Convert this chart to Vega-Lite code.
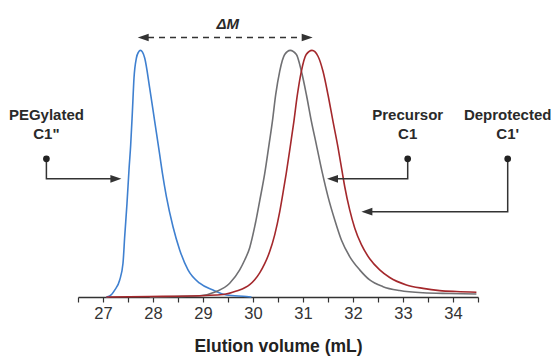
{
  "$schema": "https://vega.github.io/schema/vega-lite/v6.json",
  "width": 400,
  "height": 296,
  "autosize": {"type": "none"},
  "padding": {"left": 78, "right": 77, "top": 1, "bottom": 59},
  "background": "white",
  "config": {"view": {"stroke": null}, "font": "Liberation Sans"},
  "datasets": {
    "curves": [
      {"s": "PEG", "x": 27.068, "y": 0}, {"s": "PEG", "x": 27.134, "y": 0.004}, {"s": "PEG", "x": 27.234, "y": 0.028}, {"s": "PEG", "x": 27.334, "y": 0.069}, {"s": "PEG", "x": 27.4, "y": 0.137}, {"s": "PEG", "x": 27.434, "y": 0.245}, {"s": "PEG", "x": 27.48, "y": 0.38}, {"s": "PEG", "x": 27.52, "y": 0.516}, {"s": "PEG", "x": 27.554, "y": 0.617}, {"s": "PEG", "x": 27.588, "y": 0.752}, {"s": "PEG", "x": 27.62, "y": 0.888}, {"s": "PEG", "x": 27.668, "y": 0.969}, {"s": "PEG", "x": 27.71, "y": 0.993}, {"s": "PEG", "x": 27.748, "y": 1.0}, {"s": "PEG", "x": 27.79, "y": 0.993}, {"s": "PEG", "x": 27.834, "y": 0.969}, {"s": "PEG", "x": 27.934, "y": 0.847}, {"s": "PEG", "x": 28.034, "y": 0.712}, {"s": "PEG", "x": 28.134, "y": 0.577}, {"s": "PEG", "x": 28.188, "y": 0.502}, {"s": "PEG", "x": 28.268, "y": 0.407}, {"s": "PEG", "x": 28.4, "y": 0.285}, {"s": "PEG", "x": 28.534, "y": 0.191}, {"s": "PEG", "x": 28.7, "y": 0.11}, {"s": "PEG", "x": 28.934, "y": 0.056}, {"s": "PEG", "x": 29.2, "y": 0.028}, {"s": "PEG", "x": 29.468, "y": 0.008}, {"s": "PEG", "x": 29.868, "y": 0.002}, {"s": "PEG", "x": 29.97, "y": 0},
      {"s": "Pre", "x": 27.934, "y": 0}, {"s": "Pre", "x": 28.434, "y": 0.002}, {"s": "Pre", "x": 28.934, "y": 0.005}, {"s": "Pre", "x": 29.268, "y": 0.022}, {"s": "Pre", "x": 29.534, "y": 0.056}, {"s": "Pre", "x": 29.734, "y": 0.11}, {"s": "Pre", "x": 29.834, "y": 0.15}, {"s": "Pre", "x": 29.934, "y": 0.2}, {"s": "Pre", "x": 30.034, "y": 0.285}, {"s": "Pre", "x": 30.134, "y": 0.39}, {"s": "Pre", "x": 30.234, "y": 0.5}, {"s": "Pre", "x": 30.32, "y": 0.617}, {"s": "Pre", "x": 30.388, "y": 0.712}, {"s": "Pre", "x": 30.454, "y": 0.82}, {"s": "Pre", "x": 30.534, "y": 0.915}, {"s": "Pre", "x": 30.634, "y": 0.983}, {"s": "Pre", "x": 30.744, "y": 1.0}, {"s": "Pre", "x": 30.868, "y": 0.983}, {"s": "Pre", "x": 30.968, "y": 0.915}, {"s": "Pre", "x": 31.068, "y": 0.82}, {"s": "Pre", "x": 31.168, "y": 0.712}, {"s": "Pre", "x": 31.268, "y": 0.617}, {"s": "Pre", "x": 31.388, "y": 0.502}, {"s": "Pre", "x": 31.5, "y": 0.407}, {"s": "Pre", "x": 31.634, "y": 0.313}, {"s": "Pre", "x": 31.768, "y": 0.231}, {"s": "Pre", "x": 31.934, "y": 0.164}, {"s": "Pre", "x": 32.134, "y": 0.11}, {"s": "Pre", "x": 32.334, "y": 0.069}, {"s": "Pre", "x": 32.6, "y": 0.042}, {"s": "Pre", "x": 32.934, "y": 0.026}, {"s": "Pre", "x": 33.4, "y": 0.017}, {"s": "Pre", "x": 33.934, "y": 0.014}, {"s": "Pre", "x": 34.468, "y": 0.012},
      {"s": "Dep", "x": 27.068, "y": 0}, {"s": "Dep", "x": 27.934, "y": 0.002}, {"s": "Dep", "x": 28.734, "y": 0.004}, {"s": "Dep", "x": 29.4, "y": 0.01}, {"s": "Dep", "x": 29.668, "y": 0.024}, {"s": "Dep", "x": 29.934, "y": 0.05}, {"s": "Dep", "x": 30.034, "y": 0.07}, {"s": "Dep", "x": 30.134, "y": 0.098}, {"s": "Dep", "x": 30.234, "y": 0.135}, {"s": "Dep", "x": 30.334, "y": 0.184}, {"s": "Dep", "x": 30.434, "y": 0.252}, {"s": "Dep", "x": 30.534, "y": 0.345}, {"s": "Dep", "x": 30.6, "y": 0.422}, {"s": "Dep", "x": 30.664, "y": 0.5}, {"s": "Dep", "x": 30.75, "y": 0.617}, {"s": "Dep", "x": 30.818, "y": 0.712}, {"s": "Dep", "x": 30.884, "y": 0.815}, {"s": "Dep", "x": 30.964, "y": 0.912}, {"s": "Dep", "x": 31.064, "y": 0.983}, {"s": "Dep", "x": 31.18, "y": 1.0}, {"s": "Dep", "x": 31.3, "y": 0.976}, {"s": "Dep", "x": 31.4, "y": 0.915}, {"s": "Dep", "x": 31.5, "y": 0.82}, {"s": "Dep", "x": 31.6, "y": 0.712}, {"s": "Dep", "x": 31.7, "y": 0.607}, {"s": "Dep", "x": 31.788, "y": 0.502}, {"s": "Dep", "x": 31.834, "y": 0.448}, {"s": "Dep", "x": 31.934, "y": 0.353}, {"s": "Dep", "x": 32.034, "y": 0.28}, {"s": "Dep", "x": 32.168, "y": 0.212}, {"s": "Dep", "x": 32.334, "y": 0.155}, {"s": "Dep", "x": 32.534, "y": 0.11}, {"s": "Dep", "x": 32.734, "y": 0.079}, {"s": "Dep", "x": 33.068, "y": 0.049}, {"s": "Dep", "x": 33.4, "y": 0.035}, {"s": "Dep", "x": 33.734, "y": 0.026}, {"s": "Dep", "x": 34.068, "y": 0.022}, {"s": "Dep", "x": 34.468, "y": 0.019}
    ],
    "leaders": [
      {"g": "a", "o": 1, "x": 25.868, "y": 0.56}, {"g": "a", "o": 2, "x": 25.868, "y": 0.479}, {"g": "a", "o": 3, "x": 27.3, "y": 0.479},
      {"g": "b", "o": 1, "x": 33.094, "y": 0.56}, {"g": "b", "o": 2, "x": 33.094, "y": 0.479}, {"g": "b", "o": 3, "x": 31.55, "y": 0.479},
      {"g": "c", "o": 1, "x": 35.094, "y": 0.56}, {"g": "c", "o": 2, "x": 35.094, "y": 0.346}, {"g": "c", "o": 3, "x": 32.24, "y": 0.346}
    ],
    "dm": [{"x": 27.9, "y": 1.052}, {"x": 30.99, "y": 1.052}],
    "heads": [
      {"d": "R", "x": 27.368, "y": 0.479},
      {"d": "L", "x": 31.48, "y": 0.479},
      {"d": "L", "x": 32.168, "y": 0.346},
      {"d": "L", "x": 27.694, "y": 1.052},
      {"d": "R", "x": 31.194, "y": 1.052}
    ],
    "dots": [{"x": 25.868, "y": 0.56}, {"x": 33.094, "y": 0.56}, {"x": 35.094, "y": 0.56}],
    "labels": [
      {"t": "PEGylated", "x": 25.868, "y": 0.739}, {"t": "C1\"", "x": 25.868, "y": 0.66},
      {"t": "Precursor", "x": 33.094, "y": 0.739}, {"t": "C1", "x": 33.094, "y": 0.66},
      {"t": "Deprotected", "x": 35.094, "y": 0.739}, {"t": "C1'", "x": 35.094, "y": 0.66}
    ],
    "dmlabel": [{"t": "ΔM", "x": 29.494, "y": 1.106}]
  },
  "encoding": {
    "x": {
      "field": "x", "type": "quantitative",
      "scale": {"domain": [26.5, 34.5], "nice": false, "zero": false},
      "axis": {
        "values": [26.5, 27, 27.5, 28, 28.5, 29, 29.5, 30, 30.5, 31, 31.5, 32, 32.5, 33, 33.5, 34, 34.5],
        "labelExpr": "datum.value % 1 === 0 ? format(datum.value, 'd') : ''",
        "labelOverlap": false, "labelFlush": false, "grid": false,
        "domainColor": "#333333", "domainWidth": 1.5,
        "tickColor": "#333333", "tickWidth": 1.2, "tickSize": 5,
        "labelFont": "Liberation Sans", "labelFontSize": 16.5, "labelColor": "#333333", "labelPadding": 3,
        "title": "Elution volume (mL)", "titleFont": "Liberation Sans", "titleFontSize": 17.5,
        "titleFontWeight": "bold", "titleColor": "#222222", "titlePadding": 16
      }
    },
    "y": {"field": "y", "type": "quantitative", "scale": {"domain": [0, 1.2], "nice": false, "zero": true}, "axis": null}
  },
  "layer": [
    {
      "data": {"name": "curves"},
      "mark": {"type": "line", "strokeWidth": 1.6, "interpolate": "monotone"},
      "encoding": {
        "color": {"field": "s", "type": "nominal", "scale": {"domain": ["PEG", "Pre", "Dep"], "range": ["#3f80d0", "#707073", "#a4282c"]}, "legend": null}
      }
    },
    {
      "data": {"name": "leaders"},
      "mark": {"type": "line", "color": "#333333", "strokeWidth": 1.5},
      "encoding": {"detail": {"field": "g", "type": "nominal"}, "order": {"field": "o", "type": "quantitative"}}
    },
    {
      "data": {"name": "dm"},
      "mark": {"type": "line", "color": "#333333", "strokeWidth": 1.5, "strokeDash": [6, 5]},
      "encoding": {}
    },
    {
      "data": {"name": "heads"},
      "mark": {"type": "point", "filled": true, "opacity": 1, "size": 121, "color": "#333333"},
      "encoding": {
        "shape": {"field": "d", "type": "nominal", "scale": {"domain": ["L", "R"], "range": ["M 2 -0.7 L 0 0 L 2 0.7 Z", "M -2 -0.7 L 0 0 L -2 0.7 Z"]}, "legend": null}
      }
    },
    {
      "data": {"name": "dots"},
      "mark": {"type": "point", "shape": "circle", "filled": true, "opacity": 1, "size": 45, "color": "#222222"}
    },
    {
      "data": {"name": "labels"},
      "mark": {"type": "text", "font": "Liberation Sans", "fontSize": 15, "fontWeight": "bold", "color": "#2a2a2a", "align": "center", "baseline": "middle"},
      "encoding": {"text": {"field": "t"}}
    },
    {
      "data": {"name": "dmlabel"},
      "mark": {"type": "text", "font": "Liberation Sans", "fontSize": 15, "fontWeight": "bold", "fontStyle": "italic", "color": "#2a2a2a", "align": "center", "baseline": "middle"},
      "encoding": {"text": {"field": "t"}}
    }
  ]
}
